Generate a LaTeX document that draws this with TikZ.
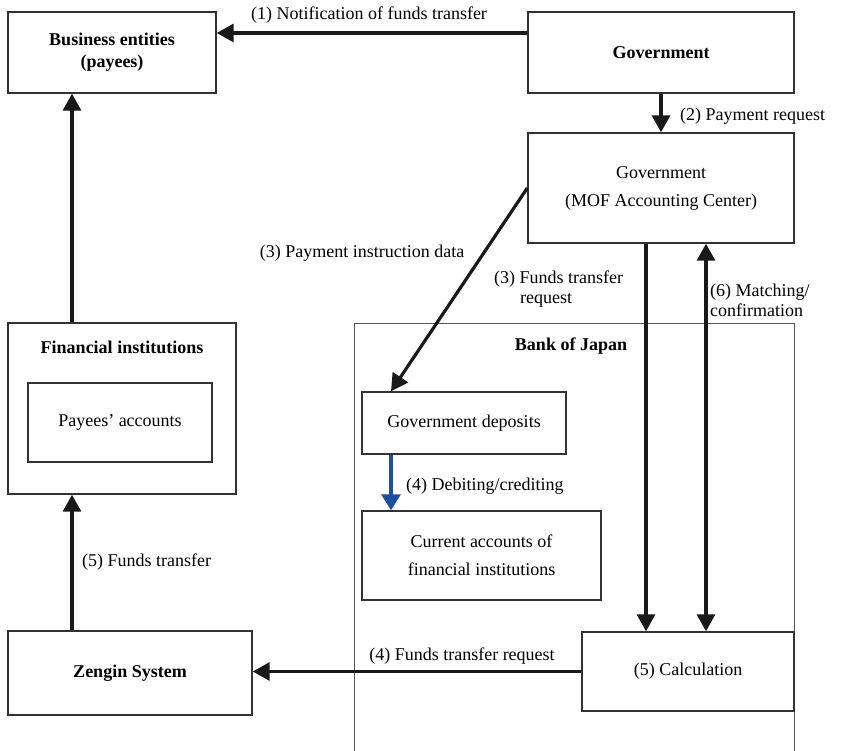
\documentclass[tikz,border=0pt]{standalone}
\usepackage{fontspec}
\setmainfont{Liberation Serif}
\usetikzlibrary{arrows.meta}
\definecolor{boxline}{HTML}{333333}
\definecolor{bojline}{HTML}{555555}
\definecolor{flowblue}{HTML}{1F4E9E}
\begin{document}
\begin{tikzpicture}[x=1pt,y=-1pt,
  box/.style={draw=boxline, line width=1.4pt, rectangle, inner sep=0pt, align=center,
    font=\fontsize{18}{28}\selectfont},
  bbox/.style={box, font=\bfseries\fontsize{18}{22}\selectfont},
  flow/.style={draw=black!90, line width=3.2pt, -{Triangle[length=17pt,width=18pt]}},
  dflow/.style={flow, {Triangle[length=17pt,width=18pt]}-{Triangle[length=17pt,width=18pt]}},
  bflow/.style={draw=flowblue, line width=3.2pt, -{Triangle[length=16pt,width=19pt]}},
  lbl/.style={font=\fontsize{18}{20}\selectfont, inner sep=0pt, align=left},
  blbl/.style={font=\bfseries\fontsize{18}{20}\selectfont, inner sep=0pt}]
\useasboundingbox (0,0) rectangle (842,751);

% Bank of Japan container (open at the bottom)
\draw[draw=bojline, line width=1pt] (354,760) -- (354,323) -- (794,323) -- (794,760);
\node[blbl] (boj) at (571,346) {Bank of Japan};

% boxes
\node[bbox, minimum width=208pt, minimum height=81pt] (biz) at (112,52.5) {Business entities\\(payees)};
\node[bbox, minimum width=266pt, minimum height=81pt] (gov) at (661,52.5) {Government};
\node[box, minimum width=266pt, minimum height=110pt] (mof) at (661,188) {Government\\(MOF Accounting Center)};
\node[box, minimum width=228pt, minimum height=171pt] (fin) at (122,408.5) {};
\node[blbl] (fint) at (122,347) {Financial institutions};
\node[box, minimum width=184pt, minimum height=79pt] (pay) at (120,422.5) {Payees' accounts};
\node[box, minimum width=204pt, minimum height=62pt] (dep) at (464,423) {Government deposits};
\node[box, minimum width=239pt, minimum height=89pt] (cur) at (481.5,555.5) {Current accounts of\\financial institutions};
\node[box, minimum width=212pt, minimum height=79pt] (calc) at (688,671.5) {(5) Calculation};
\node[bbox, minimum width=244pt, minimum height=84pt] (zen) at (130,673) {Zengin System};

% helper coordinates
\coordinate (y33) at (0,33);
\coordinate (x72) at (72,0);
\coordinate (x646) at (646,0);
\coordinate (x706) at (706,0);
\coordinate (x391) at (391,0);

% connectors
\draw[flow] (gov.west |- y33) -- (biz.east |- y33);
\draw[flow] (gov.south) -- (mof.north);
\draw[flow] (mof.west) -- (dep.north -| x391);
\draw[flow] (mof.south -| x646) -- (calc.north -| x646);
\draw[dflow] (mof.south -| x706) -- (calc.north -| x706);
\draw[bflow] (dep.south -| x391) -- (cur.north -| x391);
\draw[flow] (calc.west) -- (calc.west -| zen.east);
\draw[flow] (zen.north -| x72) -- (fin.south -| x72);
\draw[flow] (fin.north -| x72) -- (biz.south -| x72);

% labels
\node[lbl] (l1) at (369,15) {(1) Notification of funds transfer};
\node[lbl, anchor=west] (l2) at (680,116) {(2) Payment request};
\node[lbl] (l3a) at (362,253) {(3) Payment instruction data};
\node[lbl, anchor=north west] (l3b) at (494,271) {(3) Funds transfer\\\hspace*{26pt}request};
\node[lbl, anchor=north west] (l6) at (710,284) {(6) Matching/\\confirmation};
\node[lbl, anchor=west] (l4a) at (406,486) {(4) Debiting/crediting};
\node[lbl] (l4b) at (462,656) {(4) Funds transfer request};
\node[lbl, anchor=west] (l5) at (82,562) {(5) Funds transfer};
\end{tikzpicture}
\end{document}
